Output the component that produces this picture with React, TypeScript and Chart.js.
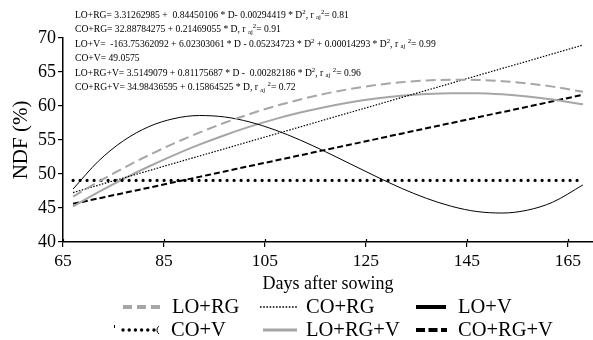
import React, { useEffect, useRef } from "react";
import { Chart, registerables } from "chart.js";

Chart.register(...registerables);

const FONT = '"Liberation Serif", "DejaVu Serif", serif';

// Days after sowing (x values of the fitted curves)
const days = [67, 72, 77, 82, 87, 92, 97, 102, 107, 112, 117, 122, 127, 132, 137, 142, 147, 152, 157, 162, 168];

// NDF (%) values
const loRG = [46.68, 48.85, 50.88, 52.77, 54.5, 56.09, 57.53, 58.82, 59.97, 60.96, 61.82, 62.52, 63.08, 63.49, 63.75, 63.87, 63.83, 63.65, 63.33, 62.85, 62.09];
const coRG = [47.27, 48.35, 49.42, 50.49, 51.57, 52.64, 53.71, 54.79, 55.86, 56.93, 58.01, 59.08, 60.15, 61.23, 62.3, 63.37, 64.45, 65.52, 66.59, 67.67, 68.96];
const loV = [47.79, 51.88, 54.9, 56.96, 58.15, 58.6, 58.39, 57.65, 56.48, 54.99, 53.28, 51.46, 49.64, 47.92, 46.42, 45.24, 44.48, 44.26, 44.68, 45.85, 48.39];
const coV = [49.06, 49.06, 49.06, 49.06, 49.06, 49.06, 49.06, 49.06, 49.06, 49.06, 49.06, 49.06, 49.06, 49.06, 49.06, 49.06, 49.06, 49.06, 49.06, 49.06, 49.06];
const loRGV = [45.24, 47.33, 49.29, 51.1, 52.78, 54.31, 55.7, 56.96, 58.07, 59.03, 59.86, 60.55, 61.09, 61.5, 61.76, 61.88, 61.87, 61.71, 61.4, 60.96, 60.25];
const coRGV = [45.61, 46.41, 47.2, 47.99, 48.79, 49.58, 50.37, 51.17, 51.96, 52.75, 53.55, 54.34, 55.13, 55.93, 56.72, 57.51, 58.31, 59.1, 59.89, 60.69, 61.64];

const seriesNames = ["LO+RG", "CO+RG", "LO+V", "CO+V", "LO+RG+V", "CO+RG+V"];

const xTicks = [65, 85, 105, 125, 145, 165];
const yTicks = [40, 45, 50, 55, 60, 65, 70];

// Regression equations (^ = superscript, _aj = subscript)
const equations = [
  "LO+RG= 3.31262985 +  0.84450106 * D- 0.00294419 * D^2, r _aj^2= 0.81",
  "CO+RG= 32.88784275 + 0.21469055 * D, r _aj^2= 0.91",
  "LO+V=  -163.75362092 + 6.02303061 * D - 0.05234723 * D^2 + 0.00014293 * D^2, r _aj ^2= 0.99",
  "CO+V= 49.0575",
  "LO+RG+V= 3.5149079 + 0.81175687 * D -  0.00282186 * D^2, r _aj ^2= 0.96",
  "CO+RG+V= 34.98436595 + 0.15864525 * D, r _aj ^2= 0.72",
];

const GRAY = "#a6a6a6";

const lineStyles = [
  { color: GRAY, width: 2, dash: [10, 5], cap: "butt" },
  { color: "#000", width: 1.2, dash: [1.5, 1.5], cap: "butt" },
  { color: "#000", width: 1, dash: [], cap: "butt" },
  { color: "#000", width: 3.2, dash: [0, 7], cap: "round" },
  { color: GRAY, width: 2, dash: [], cap: "butt" },
  { color: "#000", width: 2, dash: [6, 3], cap: "butt" },
];

const legendStyles = [
  { color: GRAY, width: 4, dash: [9, 5], cap: "butt", x0: 123, x1: 162, tx: 172, row: 0 },
  { color: "#000", width: 1.6, dash: [1.6, 1.6], cap: "butt", x0: 260, x1: 297, tx: 306, row: 0 },
  { color: "#000", width: 4, dash: [], cap: "butt", x0: 416, x1: 446, tx: 458, row: 0 },
  { color: "#000", width: 3.4, dash: [0, 6.2], cap: "round", x0: 123, x1: 154, tx: 171, row: 1 },
  { color: GRAY, width: 3, dash: [], cap: "butt", x0: 263, x1: 297, tx: 306, row: 1 },
  { color: "#000", width: 4, dash: [9, 3.5], cap: "butt", x0: 416, x1: 447, tx: 458, row: 1 },
];

const legendRowsY = [307, 330];

function drawRich(ctx: CanvasRenderingContext2D, text: string, x: number, y: number, size: number) {
  const parts = text.split(/(\^\d|_aj)/);
  let cx = x;
  for (const p of parts) {
    if (!p) continue;
    if (p.startsWith("^")) {
      ctx.font = `${size * 0.7}px ${FONT}`;
      ctx.fillText(p.slice(1), cx, y - size * 0.3);
      cx += ctx.measureText(p.slice(1)).width;
    } else if (p === "_aj") {
      ctx.font = `${size * 0.7}px ${FONT}`;
      ctx.fillText("aj", cx, y + size * 0.25);
      cx += ctx.measureText("aj").width;
    } else {
      ctx.font = `${size}px ${FONT}`;
      ctx.fillText(p, cx, y);
      cx += ctx.measureText(p).width;
    }
  }
}

const annotationPlugin = {
  id: "annot",
  afterDraw(chart: any) {
    const ctx: CanvasRenderingContext2D = chart.ctx;
    const xs = chart.scales.x;
    ctx.save();
    // inner half of the x tick marks
    ctx.strokeStyle = "#000";
    ctx.lineWidth = 1.2;
    xTicks.forEach((v) => {
      const px = Math.round(xs.getPixelForValue(v)) + 0.5;
      ctx.beginPath();
      ctx.moveTo(px, xs.top - 3);
      ctx.lineTo(px, xs.top);
      ctx.stroke();
    });
    ctx.fillStyle = "#000";
    ctx.textBaseline = "middle";
    ctx.textAlign = "left";
    equations.forEach((eq, i) => {
      drawRich(ctx, eq, 75, 15 + i * 14.5, 9.6);
    });
    // legend
    legendStyles.forEach((s, i) => {
      const y = legendRowsY[s.row];
      ctx.beginPath();
      ctx.strokeStyle = s.color;
      ctx.lineWidth = s.width;
      ctx.setLineDash(s.dash);
      ctx.lineCap = s.cap as CanvasLineCap;
      ctx.moveTo(s.x0, y);
      ctx.lineTo(s.x1, y);
      ctx.stroke();
      ctx.setLineDash([]);
      ctx.font = `20.5px ${FONT}`;
      ctx.fillStyle = "#000";
      ctx.fillText(seriesNames[i], s.tx, y + 1);
    });
    // small stray marks around the CO+V legend symbol
    ctx.strokeStyle = "#000";
    ctx.lineWidth = 1;
    ctx.lineCap = "butt";
    ctx.beginPath();
    ctx.moveTo(114.5, legendRowsY[1] - 5);
    ctx.lineTo(114.5, legendRowsY[1] - 2);
    ctx.stroke();
    ctx.beginPath();
    ctx.arc(162, legendRowsY[1], 5, Math.PI * 0.7, Math.PI * 1.3);
    ctx.stroke();
    ctx.restore();
  },
};

export default function App() {
  const ref = useRef<HTMLCanvasElement>(null);
  useEffect(() => {
    if (!ref.current) return;
    const all = [loRG, coRG, loV, coV, loRGV, coRGV];
    const chart = new Chart(ref.current, {
      type: "line",
      data: {
        datasets: all.map((vals, i) => ({
          label: seriesNames[i],
          data: days.map((d, j) => ({ x: d, y: vals[j] })),
          borderColor: lineStyles[i].color,
          borderWidth: lineStyles[i].width,
          borderDash: lineStyles[i].dash,
          borderCapStyle: lineStyles[i].cap as any,
          pointRadius: 0,
          fill: false,
          tension: 0.4,
          cubicInterpolationMode: "monotone" as const,
        })),
      },
      options: {
        animation: false,
        responsive: false,
        devicePixelRatio: 1,
        layout: { padding: { left: 0, right: 0, top: 38, bottom: 38 } },
        plugins: { legend: { display: false }, tooltip: { enabled: false } },
        scales: {
          x: {
            type: "linear",
            min: 65,
            max: 170,
            afterBuildTicks: (axis: any) => {
              axis.ticks = xTicks.map((v) => ({ value: v }));
            },
            afterFit: (s: any) => {
              s.height = 60;
            },
            grid: { drawOnChartArea: false, drawTicks: true, tickLength: 5, color: "#000", lineWidth: 1.2 },
            border: { color: "#000", width: 1.5 },
            ticks: { color: "#000", font: { size: 17.5, family: FONT }, padding: 4, autoSkip: false, maxRotation: 0 },
            title: { display: true, text: "Days after sowing", color: "#000", font: { size: 18, family: FONT }, padding: { top: 0, bottom: 7 } },
          },
          y: {
            min: 40,
            max: 70,
            afterBuildTicks: (axis: any) => {
              axis.ticks = yTicks.map((v) => ({ value: v }));
            },
            afterFit: (s: any) => {
              s.width = 63;
            },
            grid: { drawOnChartArea: false, drawTicks: true, tickLength: 5, color: "#000", lineWidth: 1.2 },
            border: { color: "#000", width: 1.5 },
            ticks: { color: "#000", font: { size: 18, family: FONT }, padding: 2 },
            title: { display: true, text: "NDF (%)", color: "#000", font: { size: 21, family: FONT }, padding: { top: 9, bottom: 0 } },
          },
        },
      },
      plugins: [annotationPlugin],
    });
    return () => chart.destroy();
  }, []);
  return (
    <div style={{ position: "absolute", left: 0, top: 0, width: 593, height: 340, background: "#fff" }}>
      <canvas ref={ref} width={593} height={340} style={{ display: "block" }} />
    </div>
  );
}
